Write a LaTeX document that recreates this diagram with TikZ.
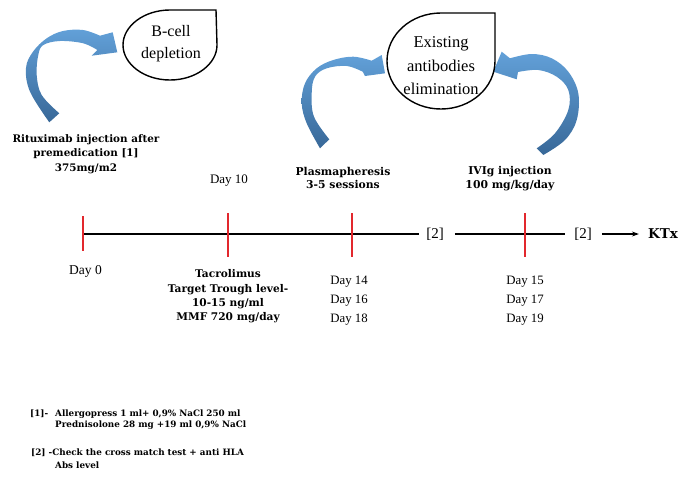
\documentclass[tikz,border=0pt]{standalone}
\usepackage{fontspec}
\setmainfont{Liberation Serif}
\newfontfamily\bsf{DejaVu Serif}
\usetikzlibrary{arrows.meta}
\definecolor{tickred}{RGB}{226,40,45}
\definecolor{arrlight}{RGB}{98,160,216}
\definecolor{arrdark}{RGB}{56,104,152}
\begin{document}
\begin{tikzpicture}[x=1pt,y=-1pt,
  bubble/.style={draw=black, line width=1.4pt, fill=white},
  bubtext/.style={font=\fontsize{16.5}{23.5}\selectfont, align=center, inner sep=0},
  boldlbl/.style={font=\bsf\bfseries\fontsize{10.8}{13.5}\selectfont, align=center, inner sep=0},
  daylbl/.style={font=\fontsize{12.8}{18.7}\selectfont, align=center, inner sep=0},
  ticksty/.style={draw=tickred, line width=1.3pt},
  tline/.style={draw=black, line width=1.8pt},
  note/.style={font=\bsf\bfseries\fontsize{8.8}{11}\selectfont, anchor=west, align=left, inner sep=0},
  bluearrow/.style={top color=arrlight, bottom color=arrdark, draw=none}]
\useasboundingbox (0,0) rectangle (682,482);

% blue curved arrows
\shade[bluearrow] plot[smooth, tension=0.6] coordinates {(49.3,122.3) (30,91.7) (26,68) (33,51.7) (46.7,38.3) (63,31) (83,30) (100,35.7)}
  -- (112.7,32.3) -- (117.3,52.3) -- (91.7,55.7)
  -- plot[smooth, tension=0.6] coordinates {(97.3,50) (83.3,43.3) (60,41) (43.3,45) (38.3,55) (36.7,75) (41.7,95) (59.3,113.3)} -- cycle;
\shade[bluearrow] plot[smooth, tension=0.6] coordinates {(320,148.3) (306.7,123.3) (301.7,103.3) (305,83.3) (316.7,68.3) (333.3,60) (353.3,56.7) (371.7,60.7)}
  -- (381.7,55) -- (385,73.3) -- (365,76)
  -- plot[smooth, tension=0.6] coordinates {(362.7,71.7) (346.7,66) (326.7,68.3) (315,76.7) (311.7,93.3) (314,116.7) (329.3,139.3)} -- cycle;
\shade[bluearrow] plot[smooth, tension=0.6] coordinates {(543.3,155) (565,140) (576.7,120) (578.3,93.3) (568.3,71.7) (551.7,58.3) (531.7,54) (510,58.3)}
  -- (501.7,51.7) -- (493.3,71.7) -- (516.7,79.3)
  -- plot[smooth, tension=0.6] coordinates {(518,72) (538.3,70) (556.7,76.7) (568.3,90) (568.3,110) (555,133.3) (536.7,148.3)} -- cycle;

% bubbles
\path[bubble] (216,10) -- (170,10) .. controls (144,10) and (123,26) .. (123,45)
  .. controls (123,64) and (144,80) .. (170,80) .. controls (196,80) and (217,64) .. (217,45) -- cycle;
\node[bubtext, font=\fontsize{16}{22}\selectfont] (bcell) at (171,44) {B-cell\\depletion};
\path[bubble] (495,13) -- (441,13) .. controls (411,13) and (387,34.5) .. (387,61)
  .. controls (387,87.5) and (411,109) .. (441,109) .. controls (471,109) and (495,87.5) .. (495,61) -- cycle;
\node[bubtext] (exist) at (441,66) {Existing\\antibodies\\elimination};

% labels above timeline
\node[boldlbl, font=\bsf\bfseries\fontsize{10.4}{14.3}\selectfont] (ritux) at (86,154) {Rituximab injection after\\premedication [1]\\375mg/m2};
\node[daylbl, font=\fontsize{13}{15}\selectfont] (d10) at (229,181) {Day 10};
\node[boldlbl] (plasma) at (343,178) {Plasmapheresis\\3-5 sessions};
\node[boldlbl] (ivig) at (510,178.5) {IVIg injection\\100 mg/kg/day};

% timeline
\coordinate (t0) at (83,234);
\coordinate (t10) at (228,234);
\coordinate (t14) at (352,234);
\coordinate (t15) at (525,234);
\node[font=\fontsize{15}{15}\selectfont, inner sep=0] (b1) at (435,234) {[2]};
\node[font=\fontsize{15}{15}\selectfont, inner sep=0] (b2) at (583,234) {[2]};
\node[font=\bsf\bfseries\fontsize{13.5}{15}\selectfont, inner sep=0] (ktx) at (663,234) {KTx};
\draw[tline] (t0) -- ([xshift=-7pt]b1.west);
\draw[tline] ([xshift=11pt]b1.east) -- ([xshift=-9pt]b2.west);
\draw[tline, -{Stealth[length=7pt,width=5pt]}] ([xshift=10pt]b2.east) -- ([xshift=-9pt]ktx.west);
\draw[ticksty] (t0) ++(0,-18) -- ++(0,35);
\draw[ticksty] (t10) ++(0,-21) -- ++(0,44);
\draw[ticksty] (t14) ++(0,-21) -- ++(0,44);
\draw[ticksty] (t15) ++(0,-21) -- ++(0,44);

% labels below timeline
\node[daylbl, font=\fontsize{13.5}{15}\selectfont] (d0) at (85.5,271) {Day 0};
\node[boldlbl, font=\bsf\bfseries\fontsize{10.6}{14.3}\selectfont] (tacro) at (228,296.5) {Tacrolimus\\Target Trough level-\\10-15 ng/ml\\MMF 720 mg/day};
\node[daylbl] (d14) at (349,300.5) {Day 14\\Day 16\\Day 18};
\node[daylbl] (d15) at (525,300.5) {Day 15\\Day 17\\Day 19};

% footnotes
\node[note] (n1a) at (30,414) {[1]-};
\node[note] (n1b) at (55,414) {Allergopress 1 ml+ 0,9\% NaCl 250 ml};
\node[note] (n1c) at (55,425.5) {Prednisolone 28 mg +19 ml 0,9\% NaCl};
\node[note] (n2a) at (31,453) {[2] -Check the cross match test + anti HLA};
\node[note] (n2b) at (55,465) {Abs level};
\end{tikzpicture}
\end{document}
